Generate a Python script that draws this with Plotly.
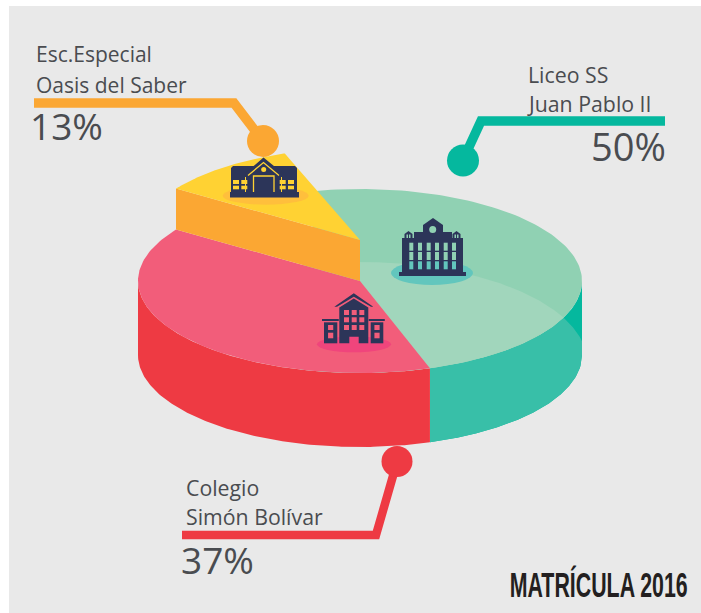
import numpy as np
import plotly.graph_objects as go

# ---- data ----
categories = ["Liceo SS<br>Juan Pablo II", "Colegio<br>Simón Bolívar", "Esc.Especial<br>Oasis del Saber"]
label_pct = [50, 37, 13]
drawn_share_pct = [50.4, 39.55, 10.05]  # wedge sizes as they are drawn in the picture
title = "MATRÍCULA 2016"

W, H = 701, 613
CX, CY, RX, RY = 360, 281, 222, 92
DEPTH = 74
LIFT = 41
START = 109.8

BG = "#E9E9E9"; DARK = "#2C3559"; TXT = "#4A4C50"
GREEN = "#90D1B3"; GREEN_L = "#A1D6BC"; TEAL = "#38BFA8"; TEAL_D = "#05B89E"
PINK = "#F25D7A"; RED = "#EE3A43"; YEL = "#FFD233"; ORG = "#FBA733"

fig = go.Figure()


def poly(xs, ys, color):
    fig.add_trace(go.Scatter(x=list(xs), y=list(ys), mode="lines", fill="toself", fillcolor=color,
                             line=dict(width=0, color=color), hoverinfo="skip", showlegend=False))


def rim(a):
    t = np.radians(a)
    return CX + RX * np.cos(t), CY - RY * np.sin(t)


def wedge(a0, a1, color, lift=0):
    x, y = rim(np.linspace(a0, a1, 120))
    poly(np.r_[CX, x, CX], np.r_[CY - lift, y - lift, CY - lift], color)


# angles from the drawn shares (counter-clockwise from START: yellow, red, green)
a_y = START + drawn_share_pct[2] * 3.6
a_r = a_y + drawn_share_pct[1] * 3.6
a_g = a_r + drawn_share_pct[0] * 3.6


def top_rim_y(x):
    return CY + RY * np.sqrt(np.clip(1 - ((x - CX) / RX) ** 2, 0, 1))


def ov_y(x):
    return (CY + 81) - 100 * np.sqrt(np.clip(1 - ((x - CX) / 227) ** 2, 0, 1))


# side walls
xs = np.linspace(rim(a_r)[0], CX + RX, 200)
poly(np.r_[xs, xs[::-1]], np.r_[top_rim_y(xs), (top_rim_y(xs) + DEPTH)[::-1]], TEAL_D)
poly(np.r_[xs, xs[::-1]], np.r_[np.maximum(top_rim_y(xs), ov_y(xs)), (top_rim_y(xs) + DEPTH)[::-1]], TEAL)
xr, yr = rim(np.linspace(180, a_r, 160))
poly(np.r_[xr, xr[::-1]], np.r_[yr, (yr + DEPTH)[::-1]], RED)

# top faces
wedge(a_r, a_g, GREEN)
xl = np.linspace(CX - 60, CX + RX, 300)
keep = ov_y(xl) <= top_rim_y(xl)
xl = xl[keep]
poly(np.r_[xl, xl[::-1]], np.r_[ov_y(xl), top_rim_y(xl)[::-1]], GREEN_L)
wedge(a_y, a_r, PINK)

# lifted wedge
xc, yc = rim(a_y)
poly([xc, CX, CX, xc], [yc - LIFT, CY - LIFT, CY, yc], ORG)
wedge(START, a_y, YEL, LIFT)

# ---- decorative shapes ----
shapes = [dict(type="rect", x0=9, x1=W, y0=6, y1=H, fillcolor=BG, line_width=0, layer="below")]


def rect(x0, y0, x1, y1, c):
    shapes.append(dict(type="rect", x0=x0, y0=y0, x1=x1, y1=y1, fillcolor=c, line_width=0))


def ell(cx, cy, rx, ry, c):
    shapes.append(dict(type="circle", x0=cx - rx, x1=cx + rx, y0=cy - ry, y1=cy + ry, fillcolor=c, line_width=0))


def path(pts, c=None, stroke=None, w=0):
    d = "M" + " L".join(f"{x},{y}" for x, y in pts)
    if c:
        d += " Z"
    s = dict(type="path", path=d, line=dict(width=w, color=stroke or "rgba(0,0,0,0)"))
    if c:
        s["fillcolor"] = c
    shapes.append(s)


# leaders
path([(34, 103), (234, 103), (263, 141)], stroke=ORG, w=9.5)
ell(263, 141, 16, 16, ORG)
path([(665, 121), (481, 121), (463, 160)], stroke=TEAL_D, w=9.5)
ell(463, 160.5, 16, 16, TEAL_D)
path([(182, 535), (376, 535), (397, 462)], stroke=RED, w=8.5)
ell(397, 461.5, 15.5, 15.5, RED)

# school on green
ell(432, 273, 41, 12, "#62C6BD")
rect(399, 272, 466, 276, DARK)
rect(402, 238, 463, 272, DARK)
rect(414, 232, 452, 238, DARK)
path([(423, 232), (423, 225), (433, 218), (443, 225), (443, 232)], DARK)
ell(432.7, 229.5, 3.5, 3.5, GREEN)
for tx in (408.5, 456.5):
    path([(tx - 4, 238), (tx - 4, 234), (tx, 231), (tx + 4, 234), (tx + 4, 238)], DARK)
    rect(tx - 2, 234.5, tx - .5, 238, GREEN)
    rect(tx + .5, 234.5, tx + 2, 238, GREEN)
for wx in (411.3, 420, 428.7, 437, 445.7, 454):
    rect(wx - 2, 242.7, wx + 2, 250.7, GREEN)
    rect(wx - 2, 252, wx + 2, 260, GREEN)
    rect(wx - 2, 261.3, wx + 2, 269.3, "#62C6BD")

# house on yellow
ell(265.7, 195.7, 43, 9, "#FFBF3C")
rect(230, 192, 299, 197.5, DARK)
path([(231, 192), (231, 168), (233, 166), (295, 166), (297, 168), (297, 192)], DARK)
path([(245.5, 173), (263.5, 157.5), (282.5, 173), (282.5, 177), (279, 177), (279, 192), (248, 192), (248, 177), (245.5, 177)], DARK)
path([(248, 175.5), (263.5, 162.5), (279, 175.5)], stroke=YEL, w=1.3)
path([(253.5, 192), (253.5, 176), (274, 176), (274, 192)], stroke=YEL, w=1.3)
path([(245.5, 192), (245.5, 177)], stroke=YEL, w=1)
path([(281.5, 192), (281.5, 177)], stroke=YEL, w=1)
ell(263.7, 169.5, 2.5, 2.5, YEL)
for x0 in (233, 241.3, 279.7, 288):
    rect(x0, 180, x0 + 6, 184, YEL)
    rect(x0, 185.7, x0 + 6, 189.3, YEL)

# college on pink
ell(354, 344.3, 37, 8, "#F0457C")
path([(334.3, 306.7), (353.8, 293.3), (373.3, 306.7), (371, 306.7), (353.8, 296.8), (337, 306.7)], DARK)
path([(339.3, 343.3), (339.3, 307.5), (353.8, 298.5), (368.3, 307.5), (368.3, 343.3), (358.7, 343.3),
      (358.7, 336.7), (349.3, 336.7), (349.3, 343.3)], DARK)
for wx in (344, 351.7, 359.3):
    for wy in (310, 317.3, 325):
        rect(wx, wy, wx + 5, wy + 5, PINK)
for x0, x1 in ((324, 337.3), (370.7, 383.3)):
    rect(x0, 322.3, x1, 343.3, DARK)
    rect(x0 - 2, 319, x1 + 1.5, 321, DARK)
    mx = (x0 + x1) / 2
    rect(mx - 2.6, 325, mx + 2.6, 330, PINK)
    rect(mx - 2.6, 332.7, mx + 2.6, 338.3, PINK)

# ---- text ----
FONT = "Open Sans"
ann = []


def text(x, ybase, s, size, anchor="left", color=TXT, family=FONT, weight=None):
    f = dict(family=family, size=size, color=color)
    if weight:
        f["weight"] = weight
    ann.append(dict(x=x, y=ybase, text=s, showarrow=False, xanchor=anchor, yanchor="bottom",
                    xref="x", yref="y", font=f, borderpad=0, borderwidth=0))


l_esc, l_oasis = categories[2].split("<br>")
l_lic, l_jp = categories[0].split("<br>")
l_col, l_sim = categories[1].split("<br>")
text(35.5, 68, l_esc, 21)
text(35.5, 99, l_oasis, 21)
text(30, 151, f"{label_pct[2]}%", 37)
text(527.5, 89, l_lic, 21.3)
text(527, 118, l_jp, 21.3)
text(666, 172, f"{label_pct[0]}%", 38, "right")
text(185.5, 502, l_col, 21.3)
text(185.5, 531, l_sim, 21.3)
text(181, 585, f"{label_pct[1]}%", 37)
text(688, 604, title, 35, "right", "#231F20", "Liberation Sans", 700)

fig.update_layout(
    width=W, height=H, margin=dict(l=0, r=0, t=0, b=0), autosize=False,
    paper_bgcolor="white", plot_bgcolor="rgba(0,0,0,0)", showlegend=False,
    xaxis=dict(range=[0, W], visible=False, fixedrange=True),
    yaxis=dict(range=[H, 0], visible=False, fixedrange=True),
    shapes=shapes, annotations=ann,
)
# page without default margin; the condensed poster title is the real text squeezed to its drawn width
post = """
document.body.style.margin='0';
document.documentElement.style.overflow='hidden';
document.querySelectorAll('.annotation-text').forEach(function(t){
  if(t.textContent.indexOf('MATR')===0){
    var b=t.getBBox();
    var s=178/b.width;
    var X=b.x+b.width;
    t.setAttribute('transform','translate('+(X*(1-s))+',0) scale('+s+',1)');
  }
});
"""
fig.write_html("out.html", config=dict(displayModeBar=False), post_script=post)
